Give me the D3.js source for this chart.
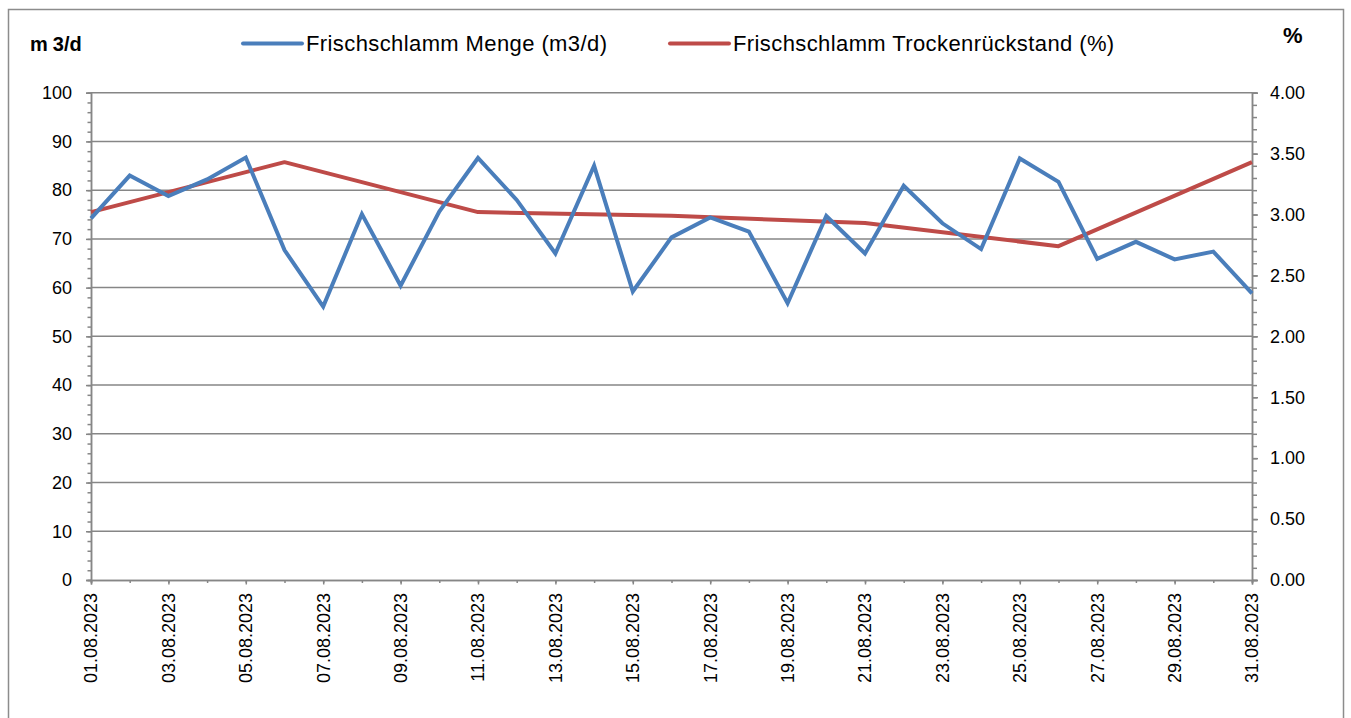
<!DOCTYPE html>
<html>
<head>
<meta charset="utf-8">
<script src="https://cdn.jsdelivr.net/npm/d3@7"></script>
<style>
  body { margin: 0; background: #fff; }
  svg { display: block; font-family: "Liberation Sans", Arial, sans-serif; }
</style>
</head>
<body>
<div id="chart"></div>
<script>
// data
var days = ["01.08.2023","02.08.2023","03.08.2023","04.08.2023","05.08.2023","06.08.2023","07.08.2023","08.08.2023",
            "09.08.2023","10.08.2023","11.08.2023","12.08.2023","13.08.2023","14.08.2023","15.08.2023","16.08.2023",
            "17.08.2023","18.08.2023","19.08.2023","20.08.2023","21.08.2023","22.08.2023","23.08.2023","24.08.2023",
            "25.08.2023","26.08.2023","27.08.2023","28.08.2023","29.08.2023","30.08.2023","31.08.2023"];

var menge = [74.2, 83.0, 78.8, 82.2, 86.7, 67.7, 56.1, 75.1, 60.4, 75.6, 86.6, 78.0, 67.0, 85.0, 59.2, 70.3,
             74.4, 71.5, 56.8, 74.7, 67.0, 80.9, 73.2, 67.9, 86.5, 81.7, 65.9, 69.4, 65.8, 67.4, 58.8];

// only measured every few days, empty cells in between
var trocken = [3.02, null, null, null, null, 3.43, null, null, null, null, 3.02, null, null, null, null, 2.99,
               null, null, null, null, 2.93, null, null, null, null, 2.74, null, null, null, null, 3.43];

var leftTicks = [0, 10, 20, 30, 40, 50, 60, 70, 80, 90, 100];
var rightTicks = [0, 0.5, 1, 1.5, 2, 2.5, 3, 3.5, 4];

var seriesNames = ["Frischschlamm Menge (m3/d)", "Frischschlamm Trockenrückstand (%)"];
var colors = ["#4A7EBB", "#BE4B48"];

var W = 1351, H = 718;
var plot = {left: 91, right: 1252, top: 92.7, bottom: 580};
var gridColor = "#868686";

var svg = d3.select("#chart").append("svg")
    .attr("width", W)
    .attr("height", H);

// chart border
svg.append("rect")
    .attr("x", 8.5).attr("y", 9.5)
    .attr("width", 1335).attr("height", 730)
    .attr("fill", "none")
    .attr("stroke", "#8c8c8c")
    .attr("stroke-width", 1.5);

var x = d3.scalePoint()
    .domain(days)
    .range([plot.left, plot.right]);

var yL = d3.scaleLinear().domain([0, 100]).range([plot.bottom, plot.top]);
var yR = d3.scaleLinear().domain([0, 4]).range([plot.bottom, plot.top]);

// gridlines
svg.append("g")
    .selectAll("line")
    .data(leftTicks.filter(function(d) { return d > 0; }))
    .enter().append("line")
    .attr("x1", plot.left).attr("x2", plot.right)
    .attr("y1", function(d) { return yL(d); })
    .attr("y2", function(d) { return yL(d); })
    .attr("stroke", gridColor)
    .attr("stroke-width", 1.5);

// left axis
var gL = svg.append("g").attr("transform", "translate(" + plot.left + ",0)");
gL.append("g").call(d3.axisLeft(yL).tickValues(d3.range(0, 101, 2)).tickSize(3.5).tickFormat(""));
gL.append("g").call(d3.axisLeft(yL).tickValues(leftTicks).tickSize(5).tickPadding(14).tickFormat(d3.format("d")));

// right axis
var gR = svg.append("g").attr("transform", "translate(" + plot.right + ",0)");
gR.append("g").call(d3.axisRight(yR).tickValues(d3.range(0, 41).map(function(d) { return d / 10; })).tickSize(5).tickFormat(""));
gR.append("g").call(d3.axisRight(yR).tickValues(rightTicks).tickSize(6).tickPadding(12).tickFormat(d3.format(".2f")));

// x axis
var gX = svg.append("g").attr("transform", "translate(0," + plot.bottom + ")");
gX.append("g").call(d3.axisBottom(x).tickSize(3).tickFormat(""));
gX.append("g").call(d3.axisBottom(x).tickValues(days.filter(function(d, i) { return i % 2 === 0; })).tickSize(4.5).tickFormat(""));
gX.append("g")
    .selectAll("text")
    .data(days.filter(function(d, i) { return i % 2 === 0; }))
    .enter().append("text")
    .attr("transform", function(d) { return "translate(" + x(d) + ",13) rotate(-90)"; })
    .attr("text-anchor", "end")
    .attr("dy", "0.36em")
    .style("font-size", "18px")
    .attr("fill", "#000")
    .text(function(d) { return d; });

svg.selectAll(".domain, .tick line")
    .attr("stroke", gridColor)
    .attr("stroke-width", 1.5);
svg.selectAll(".tick text")
    .attr("fill", "#000")
    .style("font-size", "18px");

// lines
var lineL = d3.line()
    .x(function(d) { return x(d.day); })
    .y(function(d) { return yL(d.value); });
var lineR = d3.line()
    .x(function(d) { return x(d.day); })
    .y(function(d) { return yR(d.value); });

var mengeData = days.map(function(d, i) { return {day: d, value: menge[i]}; });
var trockenData = days.map(function(d, i) { return {day: d, value: trocken[i]}; })
    .filter(function(d) { return d.value !== null; });

svg.append("path")
    .datum(trockenData)
    .attr("d", lineR)
    .attr("fill", "none")
    .attr("stroke", colors[1])
    .attr("stroke-width", 4)
    .attr("stroke-linejoin", "round");

svg.append("path")
    .datum(mengeData)
    .attr("d", lineL)
    .attr("fill", "none")
    .attr("stroke", colors[0])
    .attr("stroke-width", 4)
    .attr("stroke-linejoin", "miter");

// axis titles
var tL = svg.append("text")
    .attr("x", 30).attr("y", 50.5)
    .style("font-size", "20px")
    .style("font-weight", "bold");
tL.append("tspan").text("m");
tL.append("tspan").attr("dx", 5).text("3/d");

svg.append("text")
    .attr("x", 1283).attr("y", 42.5)
    .style("font-size", "22px")
    .style("font-weight", "bold")
    .text("%");

// legend
var legendPos = [243, 670];
var legend = svg.append("g").selectAll("g")
    .data(seriesNames)
    .enter().append("g")
    .attr("transform", function(d, i) { return "translate(" + legendPos[i] + ",43.5)"; });

legend.append("line")
    .attr("x1", 0).attr("x2", 59)
    .attr("stroke", function(d, i) { return colors[i]; })
    .attr("stroke-width", 4)
    .attr("stroke-linecap", "round");

legend.append("text")
    .attr("x", 63)
    .attr("dy", "0.35em")
    .style("font-size", "22px")
    .style("letter-spacing", "0.4px")
    .text(function(d) { return d; });
</script>
</body>
</html>
